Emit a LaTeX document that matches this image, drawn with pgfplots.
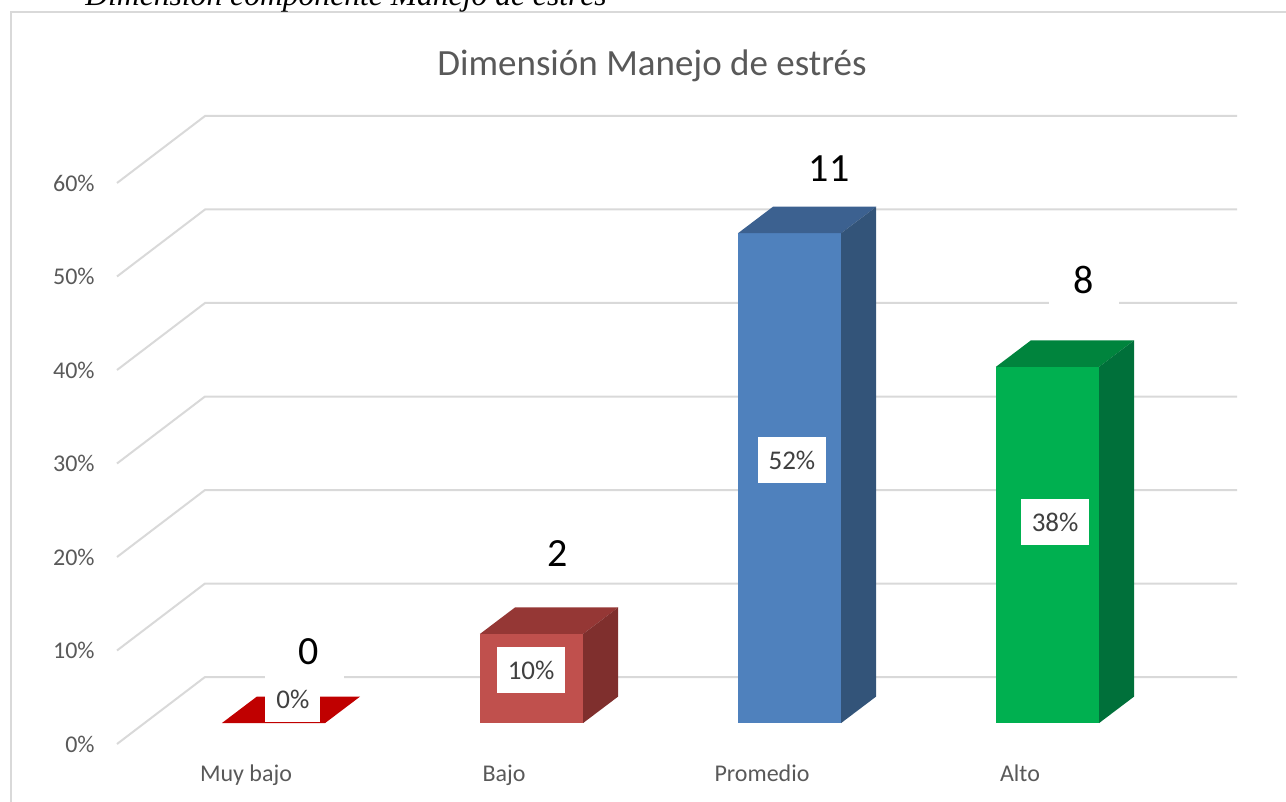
\documentclass[border=0pt]{standalone}
\usepackage{fontspec}
\setmainfont{Carlito}
\newfontfamily\timesf{Liberation Serif}
\usepackage{pgfplots}
\pgfplotsset{compat=1.18}
\definecolor{gridc}{HTML}{D9D9D9}
\definecolor{tickc}{HTML}{595959}
\definecolor{lblc}{HTML}{404040}
\definecolor{rA}{HTML}{C00000}
\definecolor{rF}{HTML}{C0504D}
\definecolor{rT}{HTML}{953735}
\definecolor{rS}{HTML}{7F2F2D}
\definecolor{bF}{HTML}{4F81BD}
\definecolor{bT}{HTML}{3C6190}
\definecolor{bS}{HTML}{335479}
\definecolor{gF}{HTML}{00B050}
\definecolor{gT}{HTML}{00843D}
\definecolor{gS}{HTML}{00703A}
\begin{document}
\begin{tikzpicture}[x=1bp,y=1bp]
\useasboundingbox (0,0) rectangle (643,400.5);
\clip (0,0) rectangle (643,400.5);
\draw[gridc, line width=1bp] (5.25,-20) -- (5.25,394.5) -- (700,394.5);
\node[anchor=base west, inner sep=0, font=\timesf\itshape\fontsize{15.8bp}{19bp}\selectfont] at (42.5,397.5) {Dimensión componente Manejo de estrés};
\node[anchor=base, inner sep=0, text=tickc, font=\fontsize{18.5bp}{22bp}\selectfont] at (326,363) {Dimensión Manejo de estrés};
\begin{axis}[
  at={(58.5bp,28.5bp)}, anchor=south west,
  scale only axis, width=560bp, height=314bp,
  xmin=0, xmax=4.3411, ymin=0, ymax=67.166,
  axis x line=bottom, axis y line=left,
  axis line style={draw=none},
  major tick length=0pt,
  ytick={0,10,20,30,40,50,60},
  yticklabels={0\%,10\%,20\%,30\%,40\%,50\%,60\%},
  xtick={0.5,1.5,2.5,3.5},
  xticklabels={Muy bajo,Bajo,Promedio,Alto},
  ticklabel style={text=tickc, font=\fontsize{12bp}{14bp}\selectfont},
  yticklabel style={anchor=east, inner sep=0pt, xshift=-11bp},
  xticklabel style={anchor=base, inner sep=0pt, yshift=-18.5bp},
  clip=false,
]
% back wall gridlines (front value -> back value + depth)
\addplot[gridc, line width=1bp] coordinates {(0,0) (0.3411,7.166) (4.3411,7.166)};
\addplot[gridc, line width=1bp] coordinates {(0,10) (0.3411,17.166) (4.3411,17.166)};
\addplot[gridc, line width=1bp] coordinates {(0,20) (0.3411,27.166) (4.3411,27.166)};
\addplot[gridc, line width=1bp] coordinates {(0,30) (0.3411,37.166) (4.3411,37.166)};
\addplot[gridc, line width=1bp] coordinates {(0,40) (0.3411,47.166) (4.3411,47.166)};
\addplot[gridc, line width=1bp] coordinates {(0,50) (0.3411,57.166) (4.3411,57.166)};
\addplot[gridc, line width=1bp] coordinates {(0,60) (0.3411,67.166) (4.3411,67.166)};
% Muy bajo: 0 (0%)
\addplot[draw=none, fill=rA] coordinates {(0.4068,2.246) (0.8068,2.246) (0.9425,5.080) (0.5425,5.080)} -- cycle;
% Bajo: 2 (9.52%)
\addplot[draw=none, fill=rF] coordinates {(1.4068,2.246) (1.8068,2.246) (1.8068,11.770) (1.4068,11.770)} -- cycle;
\addplot[draw=none, fill=rT] coordinates {(1.4068,11.770) (1.8068,11.770) (1.9425,14.604) (1.5425,14.604)} -- cycle;
\addplot[draw=none, fill=rS] coordinates {(1.8068,2.246) (1.9425,5.080) (1.9425,14.604) (1.8068,11.770)} -- cycle;
% Promedio: 11 (52.38%)
\addplot[draw=none, fill=bF] coordinates {(2.4068,2.246) (2.8068,2.246) (2.8068,54.627) (2.4068,54.627)} -- cycle;
\addplot[draw=none, fill=bT] coordinates {(2.4068,54.627) (2.8068,54.627) (2.9425,57.461) (2.5425,57.461)} -- cycle;
\addplot[draw=none, fill=bS] coordinates {(2.8068,2.246) (2.9425,5.080) (2.9425,57.461) (2.8068,54.627)} -- cycle;
% Alto: 8 (38.10%)
\addplot[draw=none, fill=gF] coordinates {(3.4068,2.246) (3.8068,2.246) (3.8068,40.341) (3.4068,40.341)} -- cycle;
\addplot[draw=none, fill=gT] coordinates {(3.4068,40.341) (3.8068,40.341) (3.9425,43.175) (3.5425,43.175)} -- cycle;
\addplot[draw=none, fill=gS] coordinates {(3.8068,2.246) (3.9425,5.080) (3.9425,43.175) (3.8068,40.341)} -- cycle;
% percentage labels
\tikzset{pl/.style={fill=white, inner xsep=5.5bp, inner ysep=0pt, minimum height=23bp, text=lblc, font=\fontsize{13.5bp}{16bp}\selectfont}}
\node[pl] at (axis cs:0.682,4.81) {0\%};
\node[pl] at (axis cs:1.605,7.91) {10\%};
\node[pl] at (axis cs:2.616,30.37) {52\%};
\node[pl] at (axis cs:3.636,23.74) {38\%};
% count labels
\tikzset{cl/.style={fill=white, inner sep=0pt, minimum width=35bp, minimum height=27bp, text=black, font=\fontsize{20bp}{24bp}\selectfont}}
\node[cl] at (axis cs:0.744,9.85) {0};
\node[cl] at (axis cs:1.709,20.32) {2};
\node[cl] at (axis cs:2.760,61.50) {11};
\node[cl] at (axis cs:3.748,49.63) {8};
\end{axis}
\end{tikzpicture}
\end{document}
